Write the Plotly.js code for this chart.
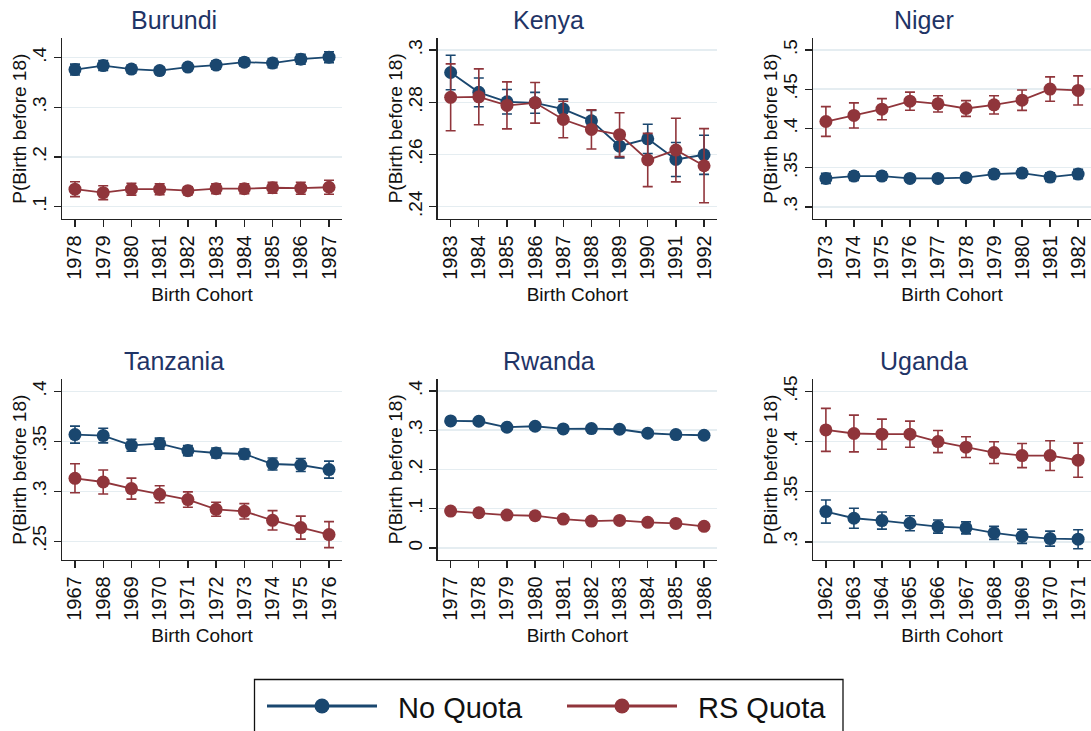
<!DOCTYPE html>
<html>
<head>
<meta charset="utf-8">
<script src="https://cdn.plot.ly/plotly-3.0.1.min.js"></script>
<style>
  html, body { margin: 0; padding: 0; background: #ffffff; }
  #chart { width: 1091px; height: 731px; }
</style>
</head>
<body>
<div id="chart"></div>
<script>
// Probability of a first birth before age 18, by birth cohort and quota status

const burundiYears = [1978, 1979, 1980, 1981, 1982, 1983, 1984, 1985, 1986, 1987];
const burundiNoQuota = [0.376, 0.384, 0.377, 0.374, 0.381, 0.385, 0.391, 0.389, 0.397, 0.401];
const burundiNoQuotaErr = [0.011, 0.010, 0.008, 0.007, 0.007, 0.008, 0.008, 0.009, 0.010, 0.011];
const burundiRsQuota = [0.135, 0.128, 0.135, 0.135, 0.132, 0.136, 0.136, 0.138, 0.137, 0.139];
const burundiRsQuotaErr = [0.015, 0.014, 0.012, 0.011, 0.008, 0.010, 0.010, 0.011, 0.012, 0.014];
const burundiTickVals = [0.1, 0.2, 0.3, 0.4];
const burundiTickText = ['.1', '.2', '.3', '.4'];

const kenyaYears = [1983, 1984, 1985, 1986, 1987, 1988, 1989, 1990, 1991, 1992];
const kenyaNoQuota = [0.2914, 0.2838, 0.2802, 0.2798, 0.2774, 0.2729, 0.2632, 0.2660, 0.2581, 0.2599];
const kenyaNoQuotaErr = [0.0066, 0.0055, 0.0047, 0.0040, 0.0038, 0.0040, 0.0045, 0.0056, 0.0065, 0.0075];
const kenyaRsQuota = [0.2819, 0.2821, 0.2788, 0.2798, 0.2734, 0.2696, 0.2676, 0.2579, 0.2617, 0.2557];
const kenyaRsQuotaErr = [0.0128, 0.0107, 0.0090, 0.0078, 0.0070, 0.0075, 0.0084, 0.0102, 0.0122, 0.0142];
const kenyaTickVals = [0.24, 0.26, 0.28, 0.30];
const kenyaTickText = ['.24', '.26', '.28', '.3'];

const nigerYears = [1973, 1974, 1975, 1976, 1977, 1978, 1979, 1980, 1981, 1982];
const nigerNoQuota = [0.3364, 0.3394, 0.3394, 0.3364, 0.3364, 0.3373, 0.3419, 0.3432, 0.3381, 0.3419];
const nigerNoQuotaErr = [0.0064, 0.0055, 0.0050, 0.0045, 0.0045, 0.0045, 0.0050, 0.0050, 0.0055, 0.0060];
const nigerRsQuota = [0.4089, 0.4166, 0.4246, 0.4348, 0.4314, 0.4255, 0.4301, 0.4361, 0.4502, 0.4485];
const nigerRsQuotaErr = [0.0190, 0.0160, 0.0134, 0.0115, 0.0104, 0.0100, 0.0117, 0.0130, 0.0155, 0.0185];
const nigerTickVals = [0.30, 0.35, 0.40, 0.45, 0.50];
const nigerTickText = ['.3', '.35', '.4', '.45', '.5'];

const tanzaniaYears = [1967, 1968, 1969, 1970, 1971, 1972, 1973, 1974, 1975, 1976];
const tanzaniaNoQuota = [0.3567, 0.3557, 0.3460, 0.3477, 0.3407, 0.3383, 0.3373, 0.3273, 0.3263, 0.3217];
const tanzaniaNoQuotaErr = [0.0085, 0.0073, 0.0060, 0.0055, 0.0050, 0.0050, 0.0050, 0.0060, 0.0065, 0.0085];
const tanzaniaRsQuota = [0.3130, 0.3093, 0.3027, 0.2970, 0.2917, 0.2820, 0.2800, 0.2710, 0.2637, 0.2567];
const tanzaniaRsQuotaErr = [0.0145, 0.0120, 0.0105, 0.0085, 0.0077, 0.0070, 0.0077, 0.0097, 0.0115, 0.0130];
const tanzaniaTickVals = [0.25, 0.30, 0.35, 0.40];
const tanzaniaTickText = ['.25', '.3', '.35', '.4'];

const rwandaYears = [1977, 1978, 1979, 1980, 1981, 1982, 1983, 1984, 1985, 1986];
const rwandaNoQuota = [0.3237, 0.3229, 0.3076, 0.3102, 0.3034, 0.3042, 0.3025, 0.2924, 0.2890, 0.2873];
const rwandaNoQuotaErr = [0.006, 0.006, 0.005, 0.005, 0.005, 0.005, 0.005, 0.005, 0.005, 0.006];
const rwandaRsQuota = [0.0941, 0.0898, 0.0839, 0.0822, 0.0737, 0.0686, 0.0703, 0.0653, 0.0627, 0.0551];
const rwandaRsQuotaErr = [0.006, 0.006, 0.005, 0.005, 0.005, 0.005, 0.005, 0.005, 0.005, 0.006];
const rwandaTickVals = [0, 0.1, 0.2, 0.3, 0.4];
const rwandaTickText = ['0', '.1', '.2', '.3', '.4'];

const ugandaYears = [1962, 1963, 1964, 1965, 1966, 1967, 1968, 1969, 1970, 1971];
const ugandaNoQuota = [0.3302, 0.3236, 0.3213, 0.3186, 0.3153, 0.3140, 0.3090, 0.3056, 0.3033, 0.3027];
const ugandaNoQuotaErr = [0.0115, 0.0100, 0.0085, 0.0075, 0.0065, 0.0060, 0.0065, 0.0070, 0.0075, 0.0095];
const ugandaRsQuota = [0.4116, 0.4080, 0.4073, 0.4073, 0.4000, 0.3944, 0.3890, 0.3860, 0.3860, 0.3814];
const ugandaRsQuotaErr = [0.0214, 0.0183, 0.0150, 0.0130, 0.0110, 0.0103, 0.0108, 0.0120, 0.0148, 0.0170];
const ugandaTickVals = [0.30, 0.35, 0.40, 0.45];
const ugandaTickText = ['.3', '.35', '.4', '.45'];

const seriesNames = ['No Quota', 'RS Quota'];
const seriesColors = ['#1a476f', '#90353b'];
const yTitle = 'P(Birth before 18)';
const xTitle = 'Birth Cohort';

// Panel setup: data, axis ranges and pixel boxes of each plot region
const W = 1091, H = 731;
const fx = x => x / W;
const fy = y => 1 - y / H;

const panels = [
  { name: 'Burundi',  years: burundiYears,  no: burundiNoQuota,  noErr: burundiNoQuotaErr,  rs: burundiRsQuota,  rsErr: burundiRsQuotaErr,
    tv: burundiTickVals,  tt: burundiTickText,  yr: [0.075, 0.439],  box: [62, 342, 38.3, 219],   titleX: 174 },
  { name: 'Kenya',    years: kenyaYears,    no: kenyaNoQuota,    noErr: kenyaNoQuotaErr,    rs: kenyaRsQuota,    rsErr: kenyaRsQuotaErr,
    tv: kenyaTickVals,    tt: kenyaTickText,    yr: [0.2353, 0.3045], box: [437.7, 717, 38.3, 219], titleX: 548 },
  { name: 'Niger',    years: nigerYears,    no: nigerNoQuota,    noErr: nigerNoQuotaErr,    rs: nigerRsQuota,    rsErr: nigerRsQuotaErr,
    tv: nigerTickVals,    tt: nigerTickText,    yr: [0.2847, 0.5149], box: [813, 1091, 38.3, 219],  titleX: 924 },
  { name: 'Tanzania', years: tanzaniaYears, no: tanzaniaNoQuota, noErr: tanzaniaNoQuotaErr, rs: tanzaniaRsQuota, rsErr: tanzaniaRsQuotaErr,
    tv: tanzaniaTickVals, tt: tanzaniaTickText, yr: [0.2313, 0.412],  box: [62, 342, 379.3, 560],  titleX: 174 },
  { name: 'Rwanda',   years: rwandaYears,   no: rwandaNoQuota,   noErr: rwandaNoQuotaErr,   rs: rwandaRsQuota,   rsErr: rwandaRsQuotaErr,
    tv: rwandaTickVals,   tt: rwandaTickText,   yr: [-0.0306, 0.4298], box: [437.7, 717, 379.3, 560], titleX: 549 },
  { name: 'Uganda',   years: ugandaYears,   no: ugandaNoQuota,   noErr: ugandaNoQuotaErr,   rs: ugandaRsQuota,   rsErr: ugandaRsQuotaErr,
    tv: ugandaTickVals,   tt: ugandaTickText,   yr: [0.282, 0.462],   box: [813, 1091, 379.3, 560], titleX: 924 }
];

const FONT = '"Liberation Sans", Arial, Helvetica, sans-serif';
const INK = '#111111';
const AXIS = '#222222';
const traces = [];
const layout = {
  width: W, height: H,
  margin: { l: 0, r: 0, t: 0, b: 0 },
  paper_bgcolor: '#ffffff',
  plot_bgcolor: '#ffffff',
  showlegend: false,
  font: { family: FONT, size: 19, color: INK },
  annotations: [],
  shapes: []
};

panels.forEach((p, i) => {
  const n = i + 1;
  const xa = 'xaxis' + (n === 1 ? '' : n);
  const ya = 'yaxis' + (n === 1 ? '' : n);
  const xref = 'x' + (n === 1 ? '' : n);
  const yref = 'y' + (n === 1 ? '' : n);

  const series = [[p.no, p.noErr], [p.rs, p.rsErr]];
  series.forEach((s, k) => {
    traces.push({
      type: 'scatter', mode: 'lines+markers',
      x: p.years, y: s[0],
      xaxis: xref, yaxis: yref,
      name: seriesNames[k],
      line: { color: seriesColors[k], width: 1.8 },
      marker: { color: seriesColors[k], size: 13, symbol: 'circle' },
      error_y: { type: 'data', array: s[1], visible: true, color: seriesColors[k], thickness: 1.6, width: 5 },
      hoverinfo: 'x+y'
    });
  });

  const [x0, x1, y0, y1] = p.box;
  layout[xa] = {
    domain: [fx(x0), Math.min(1, fx(x1))],
    anchor: yref,
    range: [p.years[0] - 0.46, p.years[p.years.length - 1] + 0.46],
    tickmode: 'array',
    tickvals: p.years,
    ticktext: p.years.map(String),
    tickangle: -90,
    ticks: 'outside', ticklen: 7, tickwidth: 1.3, tickcolor: AXIS,
    showline: true, linecolor: AXIS, linewidth: 1.3,
    showgrid: false, zeroline: false,
    tickfont: { size: 20, color: INK },
    title: { text: xTitle, font: { size: 19, color: INK }, standoff: 9 }
  };
  layout[ya] = {
    domain: [fy(y1), fy(y0)],
    anchor: xref,
    range: p.yr,
    tickmode: 'array',
    tickvals: p.tv,
    ticktext: p.tt,
    tickangle: -90,
    ticks: 'outside', ticklen: 7, tickwidth: 1.3, tickcolor: AXIS,
    showline: true, linecolor: AXIS, linewidth: 1.3,
    showgrid: true, gridcolor: '#e5edf1', gridwidth: 1.5,
    zeroline: false,
    tickfont: { size: 19, color: INK }
  };

  // y-axis title, set a fixed distance left of the axis line
  layout.annotations.push({
    xref: 'paper', yref: 'paper',
    x: fx(x0 - 42), y: fy((y0 + y1) / 2),
    xanchor: 'center', yanchor: 'middle',
    textangle: -90,
    text: yTitle, showarrow: false,
    font: { family: FONT, size: 19, color: INK }
  });

  // panel title
  layout.annotations.push({
    xref: 'paper', yref: 'paper',
    x: fx(p.titleX), y: fy(i < 3 ? 20 : 361),
    xanchor: 'center', yanchor: 'middle',
    text: p.name, showarrow: false,
    font: { family: FONT, size: 25, color: '#1f3466' }
  });
});

// Legend box with line-and-marker keys
layout.shapes.push({
  type: 'rect', xref: 'paper', yref: 'paper',
  x0: fx(254.5), x1: fx(843), y0: fy(679.5), y1: fy(745),
  line: { color: INK, width: 1.3 }, fillcolor: 'rgba(0,0,0,0)'
});
const legendKeys = [
  { lineX: [267, 377], dotX: 322, textX: 396 },
  { lineX: [567, 677], dotX: 622, textX: 696 }
];
legendKeys.forEach((key, k) => {
  layout.shapes.push({
    type: 'line', xref: 'paper', yref: 'paper',
    x0: fx(key.lineX[0]), x1: fx(key.lineX[1]), y0: fy(706), y1: fy(706),
    line: { color: seriesColors[k], width: 3 }
  });
  layout.shapes.push({
    type: 'circle', xref: 'paper', yref: 'paper',
    x0: fx(key.dotX - 7.5), x1: fx(key.dotX + 7.5), y0: fy(706 + 7.5), y1: fy(706 - 7.5),
    line: { color: seriesColors[k], width: 0 }, fillcolor: seriesColors[k]
  });
  layout.annotations.push({
    xref: 'paper', yref: 'paper',
    x: fx(key.textX), y: fy(708),
    xanchor: 'left', yanchor: 'middle',
    text: seriesNames[k], showarrow: false,
    font: { family: FONT, size: 29, color: INK }
  });
});

Plotly.newPlot('chart', traces, layout, { displayModeBar: false, staticPlot: true });
</script>
</body>
</html>
